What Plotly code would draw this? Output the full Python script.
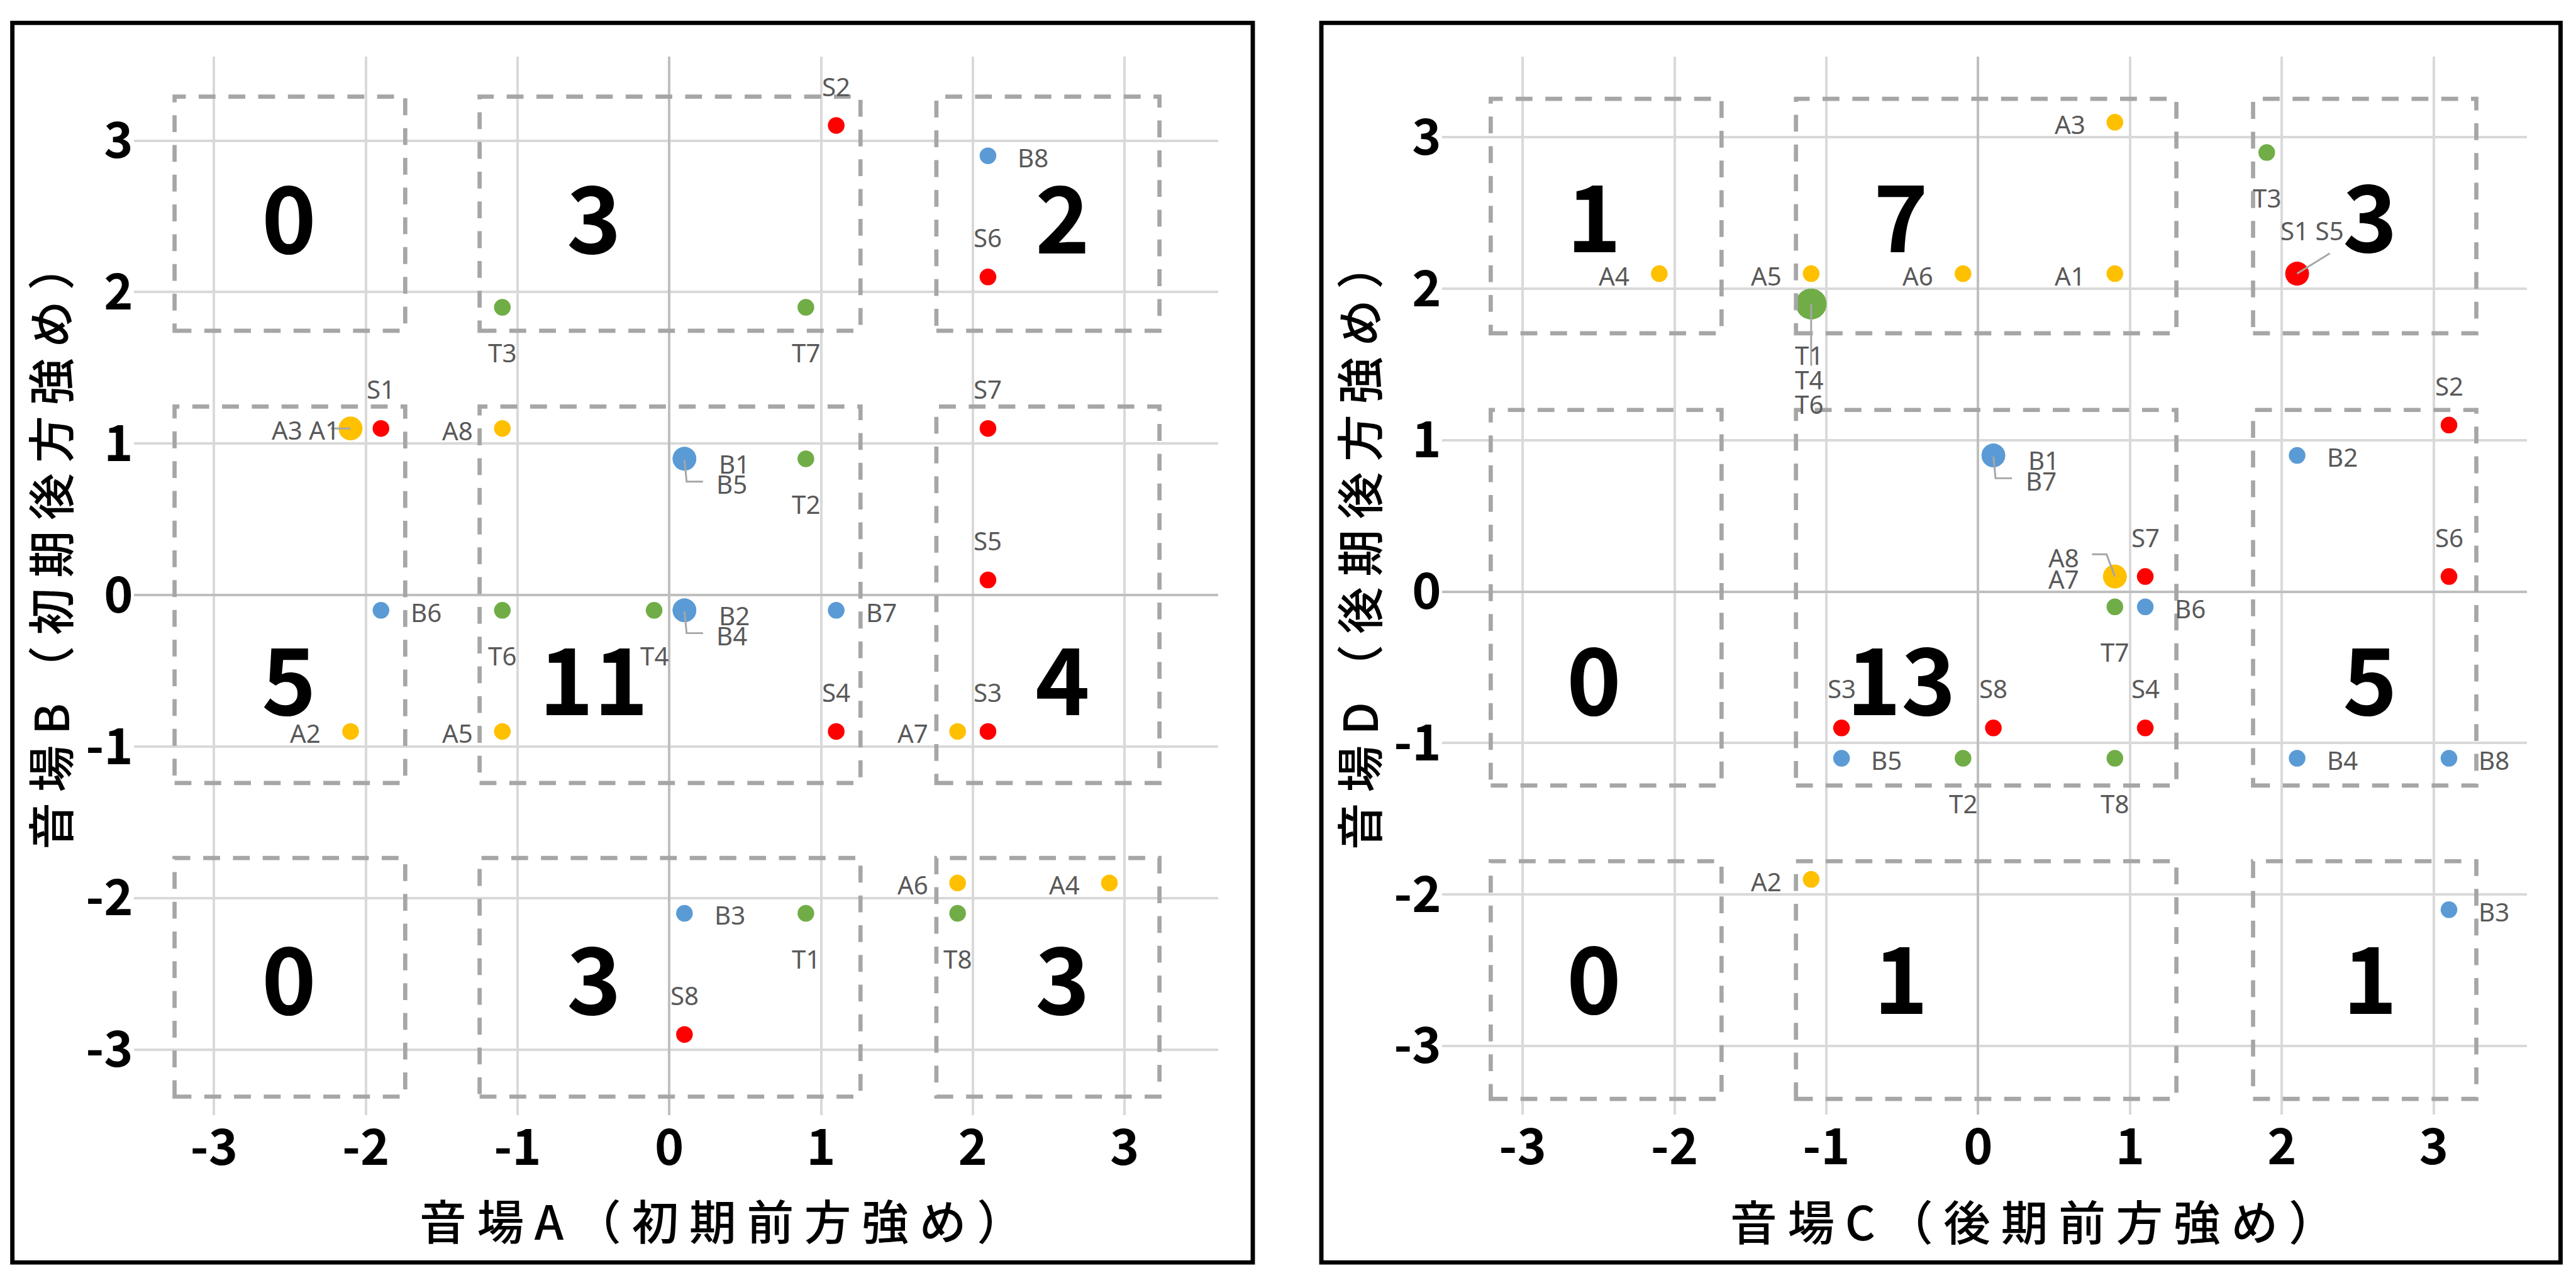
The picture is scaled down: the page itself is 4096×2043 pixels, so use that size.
import plotly.graph_objects as go

W, H = 4096, 2043
RW, RH = 4170, 2080
S = W / RW

# ---------------- data ----------------
S_names = ["S1", "S2", "S3", "S4", "S5", "S6", "S7", "S8"]
A_names = ["A1", "A2", "A3", "A4", "A5", "A6", "A7", "A8"]
B_names = ["B1", "B2", "B3", "B4", "B5", "B6", "B7", "B8"]
T_names = ["T1", "T2", "T3", "T4", "T6", "T7", "T8"]

# left panel: 音場A (x) / 音場B (y)
S_A = [-1.9, 1.1, 2.1, 1.1, 2.1, 2.1, 2.1, 0.1]
S_B = [1.1, 3.1, -0.9, -0.9, 0.1, 2.1, 1.1, -2.9]
A_A = [-2.1, -2.1, -2.1, 2.9, -1.1, 1.9, 1.9, -1.1]
A_B = [1.1, -0.9, 1.1, -1.9, -0.9, -1.9, -0.9, 1.1]
B_A = [0.1, 0.1, 0.1, 0.1, 0.1, -1.9, 1.1, 2.1]
B_B = [0.9, -0.1, -2.1, -0.1, 0.9, -0.1, -0.1, 2.9]
T_A = [0.9, 0.9, -1.1, -0.1, -1.1, 0.9, 1.9]
T_B = [-2.1, 0.9, 1.9, -0.1, -0.1, 1.9, -2.1]

# right panel: 音場C (x) / 音場D (y)
S_C = [2.1, 3.1, -0.9, 1.1, 2.1, 3.1, 1.1, 0.1]
S_D = [2.1, 1.1, -0.9, -0.9, 2.1, 0.1, 0.1, -0.9]
A_C = [0.9, -1.1, 0.9, -2.1, -1.1, -0.1, 0.9, 0.9]
A_D = [2.1, -1.9, 3.1, 2.1, 2.1, 2.1, 0.1, 0.1]
B_C = [0.1, 2.1, 3.1, 2.1, -0.9, 1.1, 0.1, 3.1]
B_D = [0.9, 0.9, -2.1, -1.1, -1.1, -0.1, 0.9, -1.1]
T_C = [-1.1, -0.1, 1.9, -1.1, -1.1, 0.9, 0.9]
T_D = [1.9, -1.1, 2.9, 1.9, 1.9, -0.1, -1.1]

# counts per box (rows top -> bottom, cols left -> right)
COUNTS_AB = [[0, 3, 2], [5, 11, 4], [0, 3, 3]]
COUNTS_CD = [[1, 7, 3], [0, 13, 5], [0, 1, 1]]

TICK_VALS = [-3, -2, -1, 0, 1, 2, 3]
TICK_TEXT = ["-3", "-2", "-1", "0", "1", "2", "3"]
X_TITLES = ["音場A（初期前方強め）", "音場C（後期前方強め）"]
Y_TITLES = ["音場B（初期後方強め）", "音場D（後期後方強め）"]

# ---------------- styles / layout geometry (reference px) ----------------
COL = {"S": "#FF0000", "A": "#FFC000", "B": "#5B9BD5", "T": "#70AD47"}
FONT_CJK = "Noto Sans CJK JP"
FONT_LBL = "Noto Sans"
LBL_COLOR = "#595959"

PANELS = [
    dict(xa="x", ya="y", px=(216.5, 1971.5), py=(91.5, 1805.0),
         rx=(-3.529, 3.615), ry=(-3.432, 3.555),
         cols=[(-3.26, -1.74), (-1.25, 1.26), (1.76, 3.23)],
         rows=[(1.745, 3.29), (-1.24, 1.245), (-3.31, -1.735)],
         cnt_x=[-2.506, -0.497, 2.592], cnt_y=[2.49, -0.556, -2.532],
         border=(20, 37, 2028, 2043.5),
         xt=(1168.5, 1973), yt=(79, 885)),
    dict(xa="x2", ya="y2", px=(2334.0, 4090.5), py=(91.5, 1803.6),
         rx=(-3.532, 3.613), ry=(-3.451, 3.534),
         cols=[(-3.21, -1.69), (-1.20, 1.305), (1.81, 3.28)],
         rows=[(1.706, 3.255), (-1.28, 1.20), (-3.35, -1.78)],
         cnt_x=[-2.53, -0.508, 2.58], cnt_y=[2.478, -0.58, -2.555],
         border=(2139, 37, 4145, 2043.5),
         xt=(3290.5, 1974), yt=(2197, 884)),
]

DEFAULT_POS = {"S": "above", "A": "left", "B": "right", "T": "below"}
GROUPS = [
    [(["A3", "A1"], "inline_left"), (["B1", "B5"], "stack_right"), (["B2", "B4"], "stack_right")],
    [(["S1", "S5"], "inline_above_right"), (["A8", "A7"], "stack_left"),
     (["T1", "T4", "T6"], "stack_below"), (["B1", "B7"], "stack_right")],
]

SERIES = [
    {"S": (S_names, S_A, S_B), "A": (A_names, A_A, A_B), "B": (B_names, B_A, B_B), "T": (T_names, T_A, T_B)},
    {"S": (S_names, S_C, S_D), "A": (A_names, A_C, A_D), "B": (B_names, B_C, B_D), "T": (T_names, T_C, T_D)},
]
COUNTS = [COUNTS_AB, COUNTS_CD]

MK1, MKSTEP = 27.0, 11.3   # marker diameter (ref px) for single / per extra coincident point
LBL_SIZE = 41
CNT_SIZE = 150
CNT_DY = -8      # counts: lift a little (ref px)
TICK_SIZE = 80
TITLE_SIZE = 76
LBL_DY = 0.0

fig = go.Figure()
annotations = []
shapes = []

for pi, P in enumerate(PANELS):
    xa, ya = P["xa"], P["ya"]
    ux = (P["px"][1] - P["px"][0]) / (P["rx"][1] - P["rx"][0])   # ref px per unit
    uy = (P["py"][1] - P["py"][0]) / (P["ry"][1] - P["ry"][0])

    allpts = []
    for k, (nm, xs, ys) in SERIES[pi].items():
        allpts += list(zip(xs, ys))
    mult = {}
    for p in allpts:
        mult[p] = mult.get(p, 0) + 1

    pos = {}
    for k in ["S", "A", "B", "T"]:
        nm, xs, ys = SERIES[pi][k]
        sizes = [(MK1 + MKSTEP * (mult[(x, y)] - 1)) * S for x, y in zip(xs, ys)]
        fig.add_trace(go.Scatter(x=xs, y=ys, mode="markers", xaxis=xa, yaxis=ya,
                                 marker=dict(color=COL[k], size=sizes, opacity=1, line=dict(width=0)),
                                 opacity=1, showlegend=False, hoverinfo="skip", name=k))
        for n, x, y in zip(nm, xs, ys):
            pos[n] = (x, y, k)

    def lab(text, x, y, xanchor, dx, dy):
        annotations.append(dict(x=x, y=y, xref=xa, yref=ya, text=text, showarrow=False,
                                xanchor=xanchor, yanchor="middle", borderpad=0,
                                xshift=dx * S, yshift=-(dy + LBL_DY) * S,
                                font=dict(family=FONT_LBL, size=LBL_SIZE * S, color=LBL_COLOR)))

    grouped = set()
    lx, ly = [], []

    def leader(x, y, pts):
        for dx, dy in pts:
            lx.append(x + dx / ux)
            ly.append(y - dy / uy)
        lx.append(None)
        ly.append(None)

    for names, style in GROUPS[pi]:
        grouped.update(names)
        x, y, k = pos[names[0]]
        if style == "inline_left":
            lab(" ".join(names), x, y, "right", -17, 2.5)
            leader(x, y, [(0, 0), (-32, 0)])
        elif style == "stack_right":
            lab(names[0], x, y, "left", 55, 8)
            lab(names[1], x, y, "left", 51, 41)
            leader(x, y, [(0, 2), (3.5, 37), (30, 37)])
        elif style == "stack_left":
            lab(names[0], x, y, "right", -57, -30.5)
            lab(names[1], x, y, "right", -57, 3.5)
            leader(x, y, [(0, 0), (-13.5, -36), (-37, -36)])
        elif style == "stack_below":
            for i, n in enumerate(names):
                lab(n, x, y, "center", -3, 82.6 + 40 * i)
            leader(x, y, [(0, 0), (0, 100)])
        elif style == "inline_above_right":
            lab(" ".join(names), x, y, "center", 24, -69.4)
            leader(x, y, [(0, 0), (53, -33)])

    for n, (x, y, k) in pos.items():
        if n in grouped:
            continue
        p = DEFAULT_POS[k]
        if p == "above":
            lab(n, x, y, "center", 0, -63.5)
        elif p == "below":
            lab(n, x, y, "center", 0, 73.5)
        elif p == "left":
            lab(n, x, y, "right", -47, 3)
        else:
            lab(n, x, y, "left", 47, 3)

    fig.add_trace(go.Scatter(x=lx, y=ly, mode="lines", xaxis=xa, yaxis=ya,
                             line=dict(color="#A6A6A6", width=3 * S),
                             showlegend=False, hoverinfo="skip"))

    # dashed boxes
    for r in P["rows"]:
        for c in P["cols"]:
            shapes.append(dict(type="rect", xref=xa, yref=ya, x0=c[0], x1=c[1], y0=r[0], y1=r[1],
                               line=dict(color="#A6A6A6", width=6.8 * S,
                                         dash=f"{27.3 * S:.1f}px,{20.9 * S:.1f}px"),
                               fillcolor="rgba(0,0,0,0)", layer="above"))
    # counts
    for ri, row in enumerate(COUNTS[pi]):
        for ci, v in enumerate(row):
            annotations.append(dict(x=P["cnt_x"][ci], y=P["cnt_y"][ri], xref=xa, yref=ya,
                                    text=str(v), showarrow=False, xanchor="center", yanchor="middle",
                                    yshift=-CNT_DY * S,
                                    font=dict(family=FONT_CJK, size=CNT_SIZE * S, color="black",
                                              weight="bold")))
    # panel border
    b = P["border"]
    shapes.append(dict(type="rect", xref="paper", yref="paper",
                       x0=b[0] / RW, x1=b[2] / RW, y0=1 - b[3] / RH, y1=1 - b[1] / RH,
                       line=dict(color="black", width=7 * S), fillcolor="rgba(0,0,0,0)"))
    # axis titles
    annotations.append(dict(x=P["xt"][0] / RW, y=1 - P["xt"][1] / RH, xref="paper", yref="paper",
                            text=" ".join(X_TITLES[pi]), showarrow=False,
                            xanchor="center", yanchor="middle",
                            font=dict(family=FONT_CJK, size=TITLE_SIZE * S, color="black", weight=500)))
    annotations.append(dict(x=P["yt"][0] / RW, y=1 - P["yt"][1] / RH, xref="paper", yref="paper",
                            text=" ".join(Y_TITLES[pi]), showarrow=False, textangle=-90,
                            xanchor="center", yanchor="middle",
                            font=dict(family=FONT_CJK, size=TITLE_SIZE * S, color="black", weight=500)))

axis_common = dict(tickmode="array", tickvals=TICK_VALS, ticktext=TICK_TEXT,
                   showgrid=True, gridcolor="#D9D9D9", gridwidth=4.4 * S,
                   zeroline=True, zerolinecolor="#BFBFBF", zerolinewidth=4.4 * S,
                   showline=False, ticks="", fixedrange=True,
                   tickfont=dict(family=FONT_CJK, size=TICK_SIZE * S, color="black", weight="bold"))

lay = dict(width=W, height=H, margin=dict(l=0, r=0, t=0, b=0, pad=0),
           paper_bgcolor="white", plot_bgcolor="white", showlegend=False,
           annotations=annotations, shapes=shapes)
for pi, P in enumerate(PANELS):
    sx = "" if pi == 0 else "2"
    lay["xaxis" + sx] = dict(axis_common, domain=[P["px"][0] / RW, P["px"][1] / RW],
                             range=list(P["rx"]), anchor="y" + sx)
    lay["yaxis" + sx] = dict(axis_common, domain=[1 - P["py"][1] / RH, 1 - P["py"][0] / RH],
                             range=list(P["ry"]), anchor="x" + sx)
fig.update_layout(**lay)
fig.write_html("out.html")
